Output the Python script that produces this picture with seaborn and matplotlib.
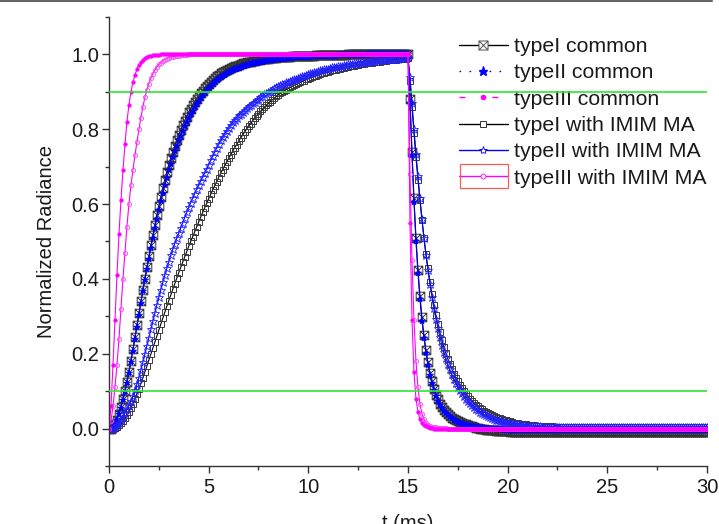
import numpy as np
import matplotlib
matplotlib.use("Agg")
import matplotlib.pyplot as plt
import seaborn as sns
from matplotlib.path import Path
from matplotlib.lines import Line2D
from matplotlib.patches import Rectangle
from matplotlib.ticker import MultipleLocator, FormatStrFormatter

# sampling grid of the measurement, 0.1 ms steps from 0 to 30 ms
t_ms = np.round(np.arange(301) * 0.1, 1)

labels = ["typeI common", "typeII common", "typeIII common",
          "typeI with IMIM MA", "typeII with IMIM MA", "typeIII with IMIM MA"]

# ---- values (rise 0..15 ms, fall 15.1..30 ms) ----
typeI_common = [
    0.000, 0.000, 0.004, 0.012, 0.024, 0.040, 0.058, 0.078, 0.100, 0.125,
    0.152, 0.181, 0.212, 0.244, 0.276, 0.308, 0.340, 0.371, 0.401, 0.431,
    0.460, 0.490, 0.518, 0.545, 0.571, 0.596, 0.620, 0.643, 0.665, 0.686,
    0.705, 0.723, 0.740, 0.756, 0.771, 0.785, 0.798, 0.811, 0.823, 0.834,
    0.845, 0.855, 0.864, 0.873, 0.881, 0.889, 0.896, 0.903, 0.910, 0.916,
    0.922, 0.927, 0.932, 0.937, 0.941, 0.945, 0.949, 0.952, 0.955, 0.958,
    0.961, 0.964, 0.966, 0.968, 0.970, 0.972, 0.974, 0.976, 0.977, 0.979,
    0.980, 0.981, 0.982, 0.983, 0.984, 0.985, 0.986, 0.987, 0.988, 0.988,
    0.989, 0.990, 0.990, 0.991, 0.991, 0.992, 0.992, 0.993, 0.993, 0.994,
    0.994, 0.994, 0.995, 0.995, 0.995, 0.996, 0.996, 0.996, 0.996, 0.997,
    0.997, 0.997, 0.997, 0.997, 0.998, 0.998, 0.998, 0.998, 0.998, 0.998,
] + [0.999] * 10 + [1.0] * 31 + [
    0.880, 0.740, 0.615, 0.510, 0.425, 0.355, 0.297, 0.250, 0.210, 0.177,
    0.149, 0.126, 0.107, 0.091, 0.078, 0.067, 0.058, 0.050, 0.044, 0.038,
    0.033, 0.029, 0.025, 0.022, 0.019, 0.017, 0.015, 0.013, 0.011, 0.010,
    0.008, 0.006, 0.004, 0.002, 0.001, 0.000, -0.001, -0.002, -0.003, -0.004,
    -0.004, -0.005, -0.005, -0.006, -0.006, -0.006, -0.007, -0.007, -0.007, -0.007,
] + [-0.008] * 100

typeII_common = [
    0.000, 0.000, 0.003, 0.011, 0.023, 0.038, 0.056, 0.076, 0.098, 0.122,
    0.149, 0.178, 0.208, 0.240, 0.272, 0.304, 0.336, 0.367, 0.397, 0.426,
    0.454, 0.483, 0.510, 0.536, 0.561, 0.585, 0.608, 0.630, 0.651, 0.671,
    0.690, 0.708, 0.725, 0.741, 0.756, 0.770, 0.783, 0.796, 0.808, 0.819,
    0.830, 0.840, 0.850, 0.859, 0.868, 0.876, 0.884, 0.891, 0.898, 0.904,
    0.910, 0.916, 0.921, 0.926, 0.931, 0.935, 0.939, 0.943, 0.946, 0.949,
    0.952, 0.955, 0.958, 0.960, 0.962, 0.964, 0.966, 0.968, 0.970, 0.971,
    0.973, 0.974, 0.976, 0.977, 0.978, 0.979, 0.980, 0.981, 0.982, 0.983,
    0.984, 0.985, 0.986, 0.986, 0.987, 0.988, 0.988, 0.989, 0.989, 0.990,
    0.990, 0.991, 0.991, 0.992, 0.992, 0.992, 0.993, 0.993, 0.993, 0.994,
    0.994, 0.994, 0.995, 0.995, 0.995, 0.995, 0.996, 0.996, 0.996, 0.996,
    0.997, 0.997, 0.997, 0.997, 0.997, 0.998, 0.998, 0.998, 0.998, 0.998,
] + [0.999] * 10 + [1.0] * 21 + [
    0.870, 0.730, 0.605, 0.500, 0.415, 0.345, 0.288, 0.242, 0.203, 0.171,
    0.144, 0.122, 0.103, 0.088, 0.075, 0.064, 0.055, 0.048, 0.041, 0.036,
    0.031, 0.027, 0.023, 0.020, 0.017, 0.015, 0.013, 0.011, 0.010, 0.008,
    0.007, 0.006, 0.005, 0.004, 0.003, 0.002, 0.001, 0.001, 0.000, 0.000,
    -0.001, -0.001, -0.001, -0.002, -0.002, -0.002, -0.002, -0.003, -0.003, -0.003,
] + [-0.003] * 100

typeIII_common = [
    0.000, 0.060, 0.170, 0.290, 0.410, 0.520, 0.610, 0.690, 0.760, 0.820,
    0.865, 0.900, 0.925, 0.945, 0.960, 0.972, 0.980, 0.986, 0.990, 0.993,
    0.995, 0.997, 0.998, 0.998, 0.999, 0.999, 1.000, 1.000, 1.000, 1.000,
] + [1.0] * 121 + [
    0.550, 0.290, 0.150, 0.080, 0.045, 0.025, 0.015, 0.010, 0.006, 0.004,
    0.002, 0.001, 0.000, 0.000, 0.000, 0.000, 0.000, 0.000, 0.000, 0.000,
] + [0.0] * 130

typeI_imim = [
    0.000, 0.000, 0.000, 0.002, 0.005, 0.009, 0.014, 0.020, 0.027, 0.035,
    0.044, 0.055, 0.067, 0.080, 0.093, 0.107, 0.121, 0.136, 0.151, 0.167,
    0.183, 0.199, 0.215, 0.231, 0.247, 0.263, 0.279, 0.295, 0.311, 0.327,
    0.342, 0.357, 0.372, 0.387, 0.402, 0.417, 0.431, 0.445, 0.459, 0.473,
    0.487, 0.500, 0.513, 0.526, 0.539, 0.552, 0.565, 0.578, 0.590, 0.602,
    0.614, 0.626, 0.638, 0.649, 0.660, 0.671, 0.682, 0.692, 0.702, 0.712,
    0.722, 0.732, 0.741, 0.750, 0.759, 0.768, 0.776, 0.784, 0.792, 0.800,
    0.808, 0.815, 0.822, 0.829, 0.836, 0.842, 0.848, 0.853, 0.859, 0.864,
    0.869, 0.874, 0.879, 0.883, 0.888, 0.892, 0.896, 0.899, 0.903, 0.906,
    0.909, 0.912, 0.915, 0.918, 0.920, 0.923, 0.925, 0.928, 0.930, 0.933,
    0.935, 0.937, 0.939, 0.941, 0.943, 0.945, 0.947, 0.949, 0.950, 0.952,
    0.954, 0.955, 0.957, 0.958, 0.959, 0.961, 0.962, 0.963, 0.964, 0.966,
    0.967, 0.968, 0.969, 0.970, 0.971, 0.972, 0.973, 0.974, 0.975, 0.976,
    0.977, 0.977, 0.978, 0.979, 0.979, 0.980, 0.981, 0.982, 0.982, 0.983,
    0.984, 0.984, 0.985, 0.985, 0.986, 0.987, 0.987, 0.988, 0.988, 0.989,
    0.990,
    0.930, 0.860, 0.790, 0.725, 0.665, 0.610, 0.558, 0.510, 0.467, 0.428,
    0.392, 0.360, 0.330, 0.303, 0.279, 0.257, 0.237, 0.218, 0.201, 0.186,
    0.172, 0.159, 0.147, 0.136, 0.126, 0.116, 0.108, 0.100, 0.093, 0.086,
    0.080, 0.074, 0.069, 0.064, 0.059, 0.055, 0.051, 0.048, 0.044, 0.041,
    0.038, 0.036, 0.033, 0.031, 0.029, 0.027, 0.025, 0.023, 0.022, 0.020,
    0.019, 0.018, 0.016, 0.015, 0.014, 0.013, 0.012, 0.012, 0.011, 0.010,
    0.010, 0.009, 0.009, 0.008, 0.008, 0.007, 0.007, 0.007, 0.006, 0.006,
    0.006, 0.006, 0.005, 0.005, 0.005, 0.005, 0.005, 0.004, 0.004, 0.004,
] + [0.004] * 20 + [0.003] * 50

typeII_imim = [
    0.000, 0.000, 0.002, 0.005, 0.010, 0.016, 0.024, 0.032, 0.041, 0.051,
    0.062, 0.074, 0.087, 0.102, 0.118, 0.136, 0.156, 0.177, 0.199, 0.221,
    0.243, 0.265, 0.287, 0.309, 0.330, 0.351, 0.371, 0.391, 0.410, 0.428,
    0.446, 0.463, 0.479, 0.494, 0.508, 0.522, 0.536, 0.550, 0.564, 0.578,
    0.591, 0.604, 0.616, 0.628, 0.640, 0.651, 0.662, 0.673, 0.683, 0.693,
    0.705, 0.717, 0.728, 0.739, 0.750, 0.760, 0.770, 0.779, 0.788, 0.796,
    0.804, 0.811, 0.818, 0.825, 0.831, 0.837, 0.842, 0.847, 0.852, 0.857,
    0.862, 0.866, 0.870, 0.874, 0.878, 0.882, 0.886, 0.890, 0.894, 0.897,
    0.900, 0.903, 0.906, 0.909, 0.912, 0.915, 0.917, 0.920, 0.922, 0.925,
    0.927, 0.929, 0.931, 0.933, 0.935, 0.937, 0.939, 0.941, 0.943, 0.945,
    0.947, 0.949, 0.951, 0.952, 0.954, 0.955, 0.957, 0.958, 0.960, 0.961,
    0.962, 0.964, 0.965, 0.966, 0.967, 0.968, 0.969, 0.970, 0.971, 0.972,
    0.973, 0.974, 0.975, 0.976, 0.977, 0.977, 0.978, 0.979, 0.980, 0.980,
    0.981, 0.982, 0.982, 0.983, 0.984, 0.984, 0.985, 0.985, 0.986, 0.986,
    0.987, 0.987, 0.988, 0.988, 0.989, 0.989, 0.990, 0.990, 0.991, 0.991,
    0.992,
    0.940, 0.870, 0.800, 0.735, 0.675, 0.615, 0.560, 0.510, 0.465, 0.424,
    0.386, 0.352, 0.321, 0.293, 0.268, 0.245, 0.224, 0.205, 0.188, 0.172,
    0.158, 0.145, 0.133, 0.122, 0.112, 0.103, 0.095, 0.087, 0.080, 0.074,
    0.068, 0.063, 0.058, 0.053, 0.049, 0.045, 0.042, 0.039, 0.036, 0.033,
    0.031, 0.028, 0.026, 0.024, 0.023, 0.021, 0.019, 0.018, 0.017, 0.016,
    0.015, 0.014, 0.013, 0.012, 0.011, 0.010, 0.010, 0.009, 0.008, 0.008,
    0.007, 0.007, 0.007, 0.006, 0.006, 0.006, 0.005, 0.005, 0.005, 0.005,
] + [0.004] * 30 + [0.003] * 50

typeIII_imim = [
    0.000, 0.020, 0.060, 0.110, 0.170, 0.240, 0.320, 0.400, 0.470, 0.540,
    0.600, 0.650, 0.690, 0.730, 0.765, 0.800, 0.830, 0.860, 0.885, 0.905,
    0.922, 0.936, 0.948, 0.958, 0.966, 0.973, 0.978, 0.983, 0.986, 0.989,
    0.991, 0.993, 0.994, 0.995, 0.996, 0.997, 0.998, 0.998, 0.999, 0.999,
] + [1.0] * 111 + [
    0.680, 0.450, 0.290, 0.180, 0.110, 0.065, 0.040, 0.025, 0.016, 0.010,
    0.007, 0.005, 0.004, 0.003, 0.002, 0.002, 0.001, 0.001, 0.001, 0.000,
] + [0.0] * 130

thresholds = [0.9, 0.1]

# square with a cross, the Origin "boxed x" symbol
box_x = Path([(-1, -1), (1, -1), (1, 1), (-1, 1), (-1, -1),
              (-1, -1), (1, 1), (-1, 1), (1, -1)],
             [Path.MOVETO, Path.LINETO, Path.LINETO, Path.LINETO, Path.CLOSEPOLY,
              Path.MOVETO, Path.LINETO, Path.MOVETO, Path.LINETO])

sns.set_style("ticks")
plt.rcParams['font.family'] = ['Liberation Sans', 'DejaVu Sans']

fig = plt.figure(figsize=(7.19, 5.24), dpi=100)
ax = fig.add_axes([0.1516, 0.1107, 0.8317, 0.8569])

styles = [
    (typeI_common, dict(color='black', marker=box_x, markersize=6.2, markerfacecolor='none',
                        markeredgecolor='#333333', markeredgewidth=0.7)),
    (typeI_imim, dict(color='black', marker='s', markersize=5.0, markerfacecolor='none',
                      markeredgecolor='#3a3a3a', markeredgewidth=0.7)),
    (typeII_common, dict(color='blue', marker='*', markersize=6, markerfacecolor='blue',
                         markeredgecolor='blue', markeredgewidth=0.3)),
    (typeII_imim, dict(color='blue', marker='*', markersize=6.3, markerfacecolor='none',
                       markeredgecolor='#2222ff', markeredgewidth=0.6)),
    (typeIII_imim, dict(color='magenta', marker='o', markersize=3.0, markerfacecolor='none',
                        markeredgecolor='#ff40ff', markeredgewidth=0.6)),
    (typeIII_common, dict(color='magenta', marker='o', markersize=2.6, markerfacecolor='magenta',
                          markeredgecolor='magenta', markeredgewidth=0.4)),
]
for vals, kw in styles:
    sns.lineplot(x=t_ms, y=np.array(vals), ax=ax, estimator=None, sort=False,
                 linewidth=0.8, **kw)

for yv in thresholds:
    ax.axhline(yv, color='#2ee82e', lw=1.2, zorder=6)

ax.set_xlim(0, 30)
ax.set_ylim(-0.1, 1.1)
ax.xaxis.set_major_locator(MultipleLocator(5))
ax.xaxis.set_minor_locator(MultipleLocator(2.5))
ax.yaxis.set_major_locator(MultipleLocator(0.2))
ax.yaxis.set_minor_locator(MultipleLocator(0.1))
ax.yaxis.set_major_formatter(FormatStrFormatter('%.1f'))

for side in ['top', 'right']:
    ax.spines[side].set_visible(False)
for side in ['left', 'bottom']:
    ax.spines[side].set_color('#333333')
    ax.spines[side].set_linewidth(1.0)

ax.tick_params(which='major', direction='out', length=5, width=1, color='#333333',
               labelsize=14.5, labelcolor='#1a1a1a')
ax.tick_params(which='minor', direction='out', length=3, width=1, color='#333333')
ax.tick_params(axis='x', which='major', pad=4)
ax.tick_params(axis='y', which='major', pad=2)

ax.set_xlabel('t (ms)', fontsize=14.5, labelpad=12, color='#1a1a1a')
ax.set_ylabel('Normalized Radiance', fontsize=14.5, labelpad=11, color='#1a1a1a')

handles = [
    Line2D([], [], color='black', lw=1, marker=box_x, markersize=6.5, markerfacecolor='white',
           markeredgecolor='#555555', markeredgewidth=0.7),
    Line2D([], [], color='blue', lw=1, ls=(0, (1.2, 6)), marker='*', markersize=6.5,
           markerfacecolor='blue', markeredgecolor='blue'),
    Line2D([], [], color='magenta', lw=1, ls=(0, (4.3, 19.4)), marker='o', markersize=3,
           markerfacecolor='magenta', markeredgecolor='magenta'),
    Line2D([], [], color='black', lw=1, marker='s', markersize=4, markerfacecolor='white',
           markeredgecolor='#333333', markeredgewidth=0.7),
    Line2D([], [], color='blue', lw=1, marker='*', markersize=6, markerfacecolor='white',
           markeredgecolor='blue', markeredgewidth=0.6),
    Line2D([], [], color='magenta', lw=1, marker='o', markersize=3.5, markerfacecolor='white',
           markeredgecolor='magenta', markeredgewidth=0.6),
]
leg = ax.legend(handles, labels, loc='upper left', bbox_to_anchor=(459 / 719, 1 - 37 / 524),
                bbox_transform=fig.transFigure, frameon=False, fontsize=15.3,
                handlelength=2.3, handletextpad=0.28, labelspacing=0.345,
                borderpad=0, borderaxespad=0, numpoints=1)
for txt in leg.get_texts():
    txt.set_color('#1a1a1a')

# selection box around the last legend symbol and the page edge line
fig.add_artist(Rectangle((460 / 719, 1 - 188 / 524), 48 / 719, 24 / 524,
                         transform=fig.transFigure, fill=False,
                         edgecolor='#ff5a5a', lw=0.9))
fig.add_artist(Line2D([0, 712 / 719], [1 - 1 / 524, 1 - 1 / 524],
                      transform=fig.transFigure, color='#666666', lw=1.5))

fig.savefig('out.png', dpi=100)
